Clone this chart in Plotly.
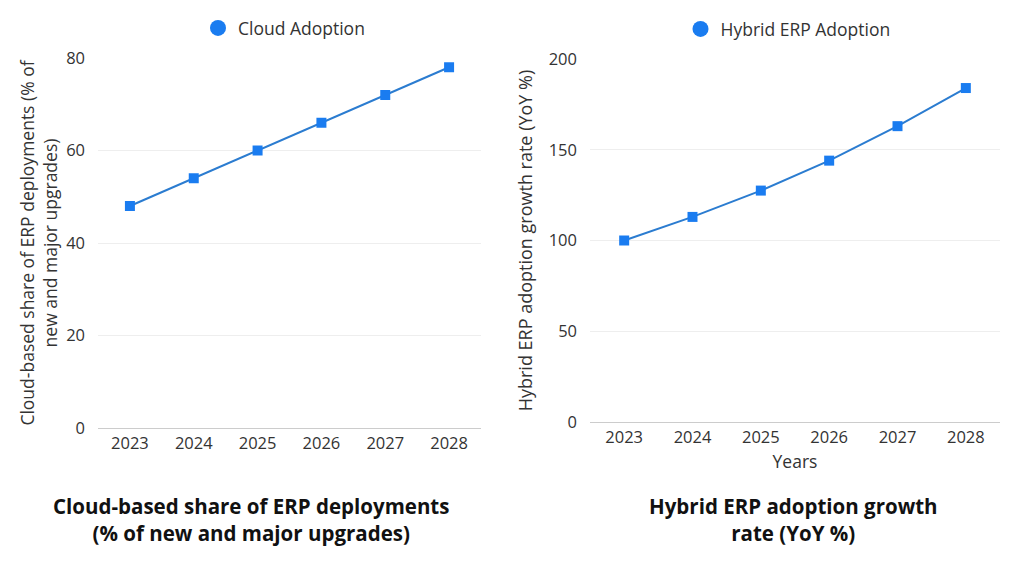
import plotly.graph_objects as go

# data
years = ["2023", "2024", "2025", "2026", "2027", "2028"]
cloud_share = [48, 54, 60, 66, 72, 78]
hybrid_growth = [100, 113, 127.5, 144, 163, 184]

left_title = "Cloud-based share of ERP deployments<br>(% of new and major upgrades)"
right_title = "Hybrid ERP adoption growth<br>rate (YoY %)"

line_col = "#2b7cd0"
mark_col = "#1a7cf0"
font_fam = "Open Sans, Lato, sans-serif"

W, H = 1024, 576
OFF = 8  # page body margin shifts the figure


def px(x):
    return (x - OFF) / W


def py(y):
    return 1 - (y - OFF) / H


fig = go.Figure()

# lines with square markers
fig.add_trace(go.Scatter(x=years, y=cloud_share, mode="lines+markers", showlegend=False,
                         line=dict(color=line_col, width=2),
                         marker=dict(symbol="square", size=10, color=mark_col),
                         xaxis="x", yaxis="y"))
fig.add_trace(go.Scatter(x=years, y=hybrid_growth, mode="lines+markers", showlegend=False,
                         line=dict(color=line_col, width=2),
                         marker=dict(symbol="square", size=10, color=mark_col),
                         xaxis="x2", yaxis="y2"))

# legend entries (circle symbol)
fig.add_trace(go.Scatter(x=[None], y=[None], mode="markers", name="Cloud Adoption",
                         marker=dict(symbol="circle", size=17, color=mark_col),
                         xaxis="x", yaxis="y", legend="legend"))
fig.add_trace(go.Scatter(x=[None], y=[None], mode="markers", name="Hybrid ERP Adoption",
                         marker=dict(symbol="circle", size=17, color=mark_col),
                         xaxis="x2", yaxis="y2", legend="legend2"))

axis_font = dict(family=font_fam, size=16.5, color="#333")
title_font = dict(family=font_fam, size=17.5, color="#333")
grid = dict(showgrid=True, gridcolor="#eeeeee", gridwidth=1, zeroline=False,
            tickfont=axis_font, ticks="", showline=False, automargin=False)

fig.update_layout(
    width=W, height=H,
    margin=dict(l=0, r=0, t=0, b=0, autoexpand=False),
    paper_bgcolor="white", plot_bgcolor="white",
    font=dict(family=font_fam, color="#333"),
    xaxis=dict(domain=[px(98), px(481)], anchor="y", type="category",
               range=[-0.5, 5.5], showgrid=False, showline=True, linecolor="#cccccc",
               tickfont=axis_font, ticks="", ticklabelstandoff=0, automargin=False),
    yaxis=dict(domain=[py(428), py(58)], anchor="x", range=[0, 80],
               tickvals=[0, 20, 40, 60, 80], ticklabelstandoff=12,
               title=dict(text="Cloud-based share of ERP deployments (% of<br>new and major upgrades)",
                          font=title_font, standoff=4),
               **grid),
    xaxis2=dict(domain=[px(590), px(1000)], anchor="y2", type="category",
                range=[-0.5, 5.5], showgrid=False, showline=True, linecolor="#cccccc",
                tickfont=axis_font, ticks="", ticklabelstandoff=0, automargin=False,
                title=dict(text="Years", font=title_font, standoff=8)),
    yaxis2=dict(domain=[py(422), py(59)], anchor="x2", range=[0, 200],
                tickvals=[0, 50, 100, 150, 200], ticklabelstandoff=12,
                title=dict(text="Hybrid ERP adoption growth rate (YoY %)",
                           font=dict(family=font_fam, size=18, color="#333"), standoff=11),
                **grid),
    legend=dict(x=px(284), y=py(28), xanchor="center", yanchor="middle",
                orientation="h", font=dict(family=font_fam, size=17.5, color="#333"),
                bgcolor="rgba(0,0,0,0)", itemwidth=30),
    legend2=dict(x=px(788), y=py(29), xanchor="center", yanchor="middle",
                 orientation="h", font=dict(family=font_fam, size=17.5, color="#333"),
                 bgcolor="rgba(0,0,0,0)", itemwidth=30),
)

for txt, xc in [(left_title, 251), (right_title, 793)]:
    fig.add_annotation(text="<b>" + txt + "</b>", x=px(xc), y=py(519), xref="paper", yref="paper",
                       xanchor="center", yanchor="middle", showarrow=False, align="center",
                       font=dict(family=font_fam, size=20.5, color="#111"))

fig.write_html("out.html")
